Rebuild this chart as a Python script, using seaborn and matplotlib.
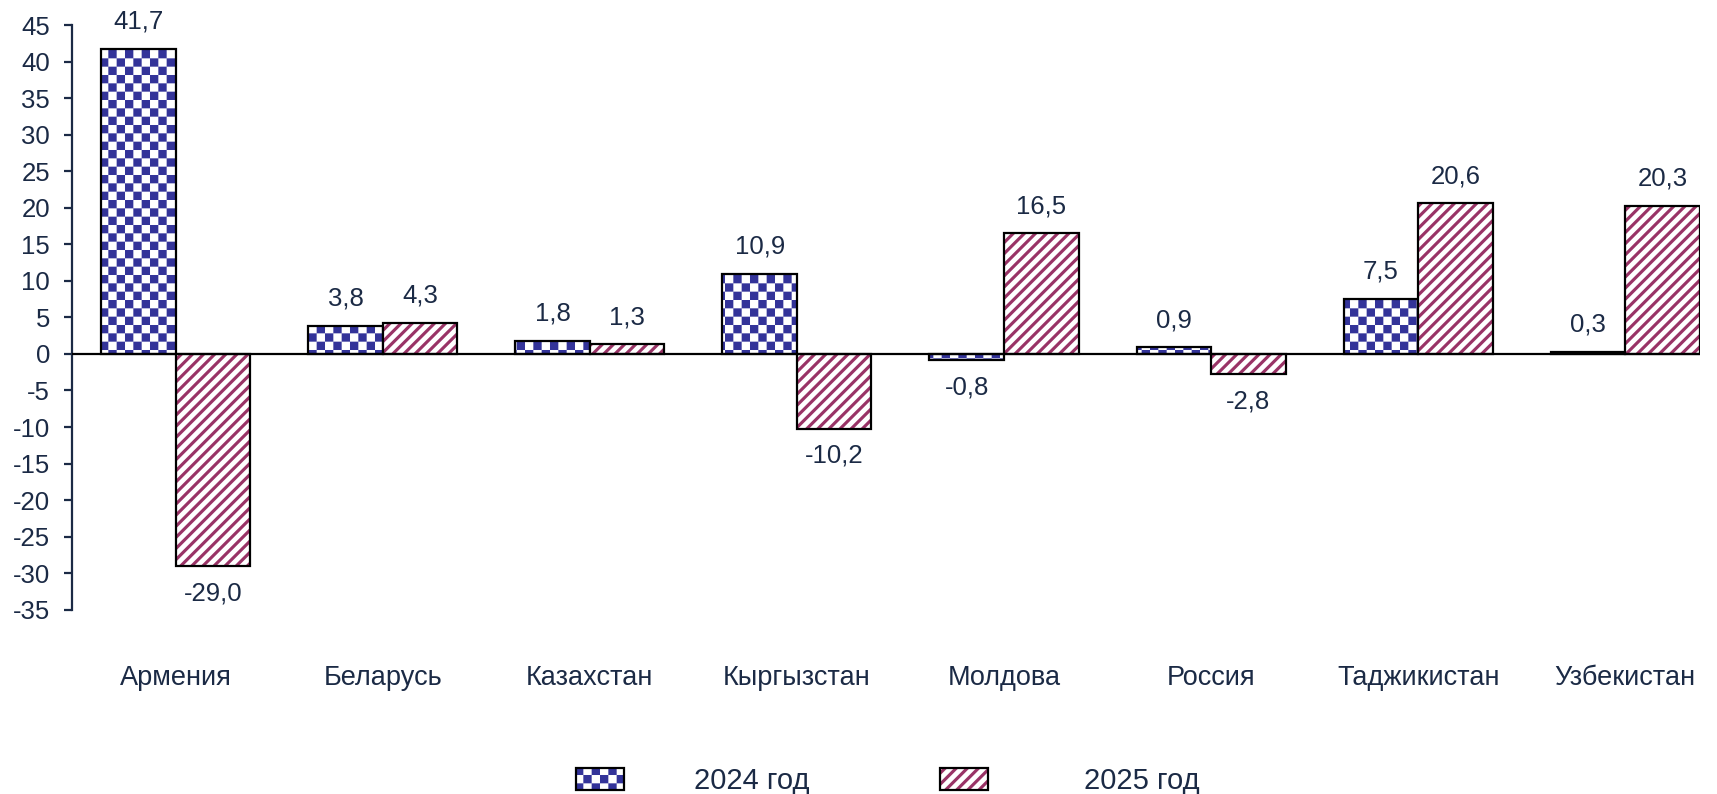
import warnings
import numpy as np
import pandas as pd
import matplotlib
matplotlib.use("Agg")
import matplotlib.pyplot as plt
import matplotlib.hatch as mhatch
from matplotlib.path import Path
from matplotlib.patches import Patch
from matplotlib.colors import to_rgba
import seaborn as sns

warnings.filterwarnings("ignore")

# ---- data ----
countries = ["Армения", "Беларусь", "Казахстан", "Кыргызстан",
             "Молдова", "Россия", "Таджикистан", "Узбекистан"]
years = ["2024 год", "2025 год"]
vals_2024 = [41.7, 3.8, 1.8, 10.9, -0.8, 0.9, 7.5, 0.3]
vals_2025 = [-29.0, 4.3, 1.3, -10.2, 16.5, -2.8, 20.6, 20.3]
y_ticks = list(range(-35, 50, 5))

BLUE = "#333399"
MAROON = "#993366"
TEXT = "#1b2a45"


# ---- custom filled hatches: 'c' = checkerboard, 's' = thick diagonal stripes ----
class CheckerHatch(mhatch.HatchPatternBase):
    def __init__(self, hatch, density):
        self.n = 12 if "c" in hatch else 0
        self.num_vertices = (self.n * self.n // 2) * 5

    def set_vertices_and_codes(self, vertices, codes):
        step = 1.0 / self.n
        k = 0
        for i in range(self.n):
            for j in range(self.n):
                if (i + j) % 2:
                    continue
                x0, y0 = i * step, j * step
                vertices[k:k + 5] = [(x0, y0), (x0 + step, y0), (x0 + step, y0 + step),
                                     (x0, y0 + step), (x0, y0)]
                codes[k:k + 5] = [Path.MOVETO, Path.LINETO, Path.LINETO,
                                  Path.LINETO, Path.CLOSEPOLY]
                k += 5


class StripeHatch(mhatch.HatchPatternBase):
    def __init__(self, hatch, density):
        self.n = 9 if "s" in hatch else 0
        self.ks = list(range(-self.n - 1, self.n + 1)) if self.n else []
        self.num_vertices = len(self.ks) * 5

    def set_vertices_and_codes(self, vertices, codes):
        w = 0.4 / self.n
        for idx, k in enumerate(self.ks):
            a = k / self.n
            s = idx * 5
            vertices[s:s + 5] = [(a, 0), (a + w, 0), (a + w + 1, 1), (a + 1, 1), (a, 0)]
            codes[s:s + 5] = [Path.MOVETO, Path.LINETO, Path.LINETO,
                              Path.LINETO, Path.CLOSEPOLY]


mhatch._hatch_types.append(CheckerHatch)
mhatch._hatch_types.append(StripeHatch)

sns.set_style("white")
plt.rcParams["font.family"] = ["Liberation Sans", "DejaVu Sans"]
plt.rcParams["hatch.linewidth"] = 0.01

df = pd.DataFrame({
    "Страна": countries * 2,
    "Год": [years[0]] * len(countries) + [years[1]] * len(countries),
    "Значение": vals_2024 + vals_2025,
})

fig = plt.figure(figsize=(17.17, 7.94), dpi=100)
ax = fig.add_axes([0.042, 0.232, 0.948, 0.7365])

sns.barplot(data=df, x="Страна", y="Значение", hue="Год", palette=[BLUE, MAROON],
            width=0.72, gap=0, saturation=1, legend=False, errorbar=None, ax=ax)

hatches = {0: "c", 1: "s"}
colors = {0: BLUE, 1: MAROON}
for ci, cont in enumerate(ax.containers):
    for bar in cont:
        bar.set_facecolor("white")
        bar.set_edgecolor("black")
        bar.set_linewidth(1.6)
        bar.set_hatch(hatches[ci])
        bar._hatch_color = to_rgba(colors[ci])
    vals = vals_2024 if ci == 0 else vals_2025
    ax.bar_label(cont, labels=[f"{v:.1f}".replace(".", ",") for v in vals],
                 padding=11, fontsize=18.5, color=TEXT)

ax.axhline(0, color="black", lw=1.6, zorder=3)

ax.set_ylim(-35, 45)
ax.set_xlim(-0.5, 7.36)
ax.set_yticks(y_ticks)
ax.set_yticklabels([str(t) for t in y_ticks])
ax.set_xlabel("")
ax.set_ylabel("")

for side in ["top", "right", "bottom"]:
    ax.spines[side].set_visible(False)
ax.spines["left"].set_color(TEXT)
ax.spines["left"].set_linewidth(1.6)

ax.tick_params(axis="y", direction="out", length=6, width=1.6, color=TEXT,
               labelsize=18.5, labelcolor=TEXT, pad=10, left=True)
ax.tick_params(axis="x", length=0, labelsize=19.5, labelcolor=TEXT, pad=40)

# legend: one entry per box so each can sit where the original has it
legend_x = {0: 0.3355, 1: 0.5475}
text_pad = {0: 2.4, 1: 3.3}
for ci in range(2):
    p = Patch(facecolor="white", edgecolor="black", linewidth=1.6,
              hatch=hatches[ci], label=years[ci])
    p._hatch_color = to_rgba(colors[ci])
    leg = fig.legend(handles=[p], loc="center left", bbox_to_anchor=(legend_x[ci], 0.016),
                     frameon=False, fontsize=21, labelcolor=TEXT, borderpad=0,
                     borderaxespad=0, handlelength=1.65, handleheight=0.8,
                     handletextpad=text_pad[ci])

fig.savefig("out.png", dpi=100)
